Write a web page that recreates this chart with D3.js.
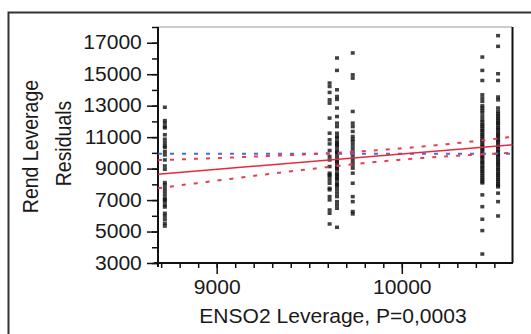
<!DOCTYPE html>
<html>
<head>
<meta charset="utf-8">
<script src="https://cdn.jsdelivr.net/npm/d3@7"></script>
<style>
  body { margin: 0; background: #fff; }
  svg { display: block; }
  text { font-family: "Liberation Sans", Arial, sans-serif; fill: #1a1a1a; }
</style>
</head>
<body>
<svg id="chart"></svg>
<script>
// leverage x positions of the point columns
const colX = [8720, 9610, 9650, 9735, 10435, 10520];

// residual values
const residA = [12900, 12050, 11890, 11670, 11590, 11150, 10870, 10650, 10450, 10340, 10080, 9870, 9550, 9170, 8960,
  8110, 7960, 7750, 7540, 7330, 7120, 7010, 6900, 6690, 6560, 6160, 5990, 5780, 5530, 5350];
const residB = [14440, 14220, 13840, 13370, 13160, 12210, 11250, 10830, 10570, 10150, 9770, 9550, 9130, 8710, 8600,
  8490, 8280, 8070, 7750, 7650, 7220, 7010, 6370, 6160, 5480];
const residC = [16030, 15240, 14010, 13580, 13400, 12850, 12310, 11890, 11670, 11250, 11040, 10940, 10720, 10620, 10510,
  10400, 10190, 10050, 9980, 9770, 9560, 9450, 9340, 9130, 9020, 8920, 8710, 8600, 8490, 8380, 8280, 8070, 7970, 7860,
  7650, 7440, 7220, 6900, 6690, 6480, 5270];
const residD = [16350, 14960, 14750, 12630, 11890, 11670, 11360, 11040, 10870, 10720, 10510, 10300, 10080, 9870, 9660,
  9450, 9240, 9030, 8710, 8070, 7220, 6900, 6270, 6120];
const residE = [16090, 15240, 14600, 13690, 13480, 13270, 12990, 12850, 12690, 12530, 12310, 12100, 11960, 11790, 11700,
  11540, 11420, 11310, 11150, 11060, 10910, 10790, 10700, 10540, 10430, 10280, 10190, 10040, 9930, 9790, 9690, 9540,
  9410, 9320, 9160, 9060, 8910, 8820, 8670, 8560, 8410, 8310, 8170, 8090, 7330, 6580, 5780, 5060, 3570];
const residF = [17450, 16770, 15030, 14600, 13550, 13370, 12850, 12630, 12480, 12350, 12210, 12090, 11950, 11870, 11720,
  11580, 11470, 11320, 11190, 11080, 10950, 10800, 10690, 10560, 10410, 10320, 10170, 10060, 9910, 9820, 9680, 9550,
  9420, 9300, 9190, 9040, 8930, 8790, 8660, 8560, 8420, 8300, 8170, 8040, 7930, 7840, 7440, 6900, 5990];

// fit line [intercept, slope], mean of residuals, confidence band [xbar, a, b]
const fitLine = [175, 0.9754];
const meanResid = 9940;
const bandParams = [10010, 128390, 0.378];

const yMajor = [3000, 5000, 7000, 9000, 11000, 13000, 15000, 17000];
const xMajor = [9000, 10000];

const W = 531, H = 334;
const svg = d3.select('#chart').attr('width', W).attr('height', H);

const x = d3.scaleLinear().domain([8683, 10598]).range([158, 512.5]);
const y = d3.scaleLinear().domain([3000, 18000]).range([263, 27]);

// outer frame (runs off right and bottom)
svg.append('path').attr('d', `M8.5,${H} V12.5 H${W}`)
  .attr('fill', 'none').attr('stroke', '#333').attr('stroke-width', 2);

// plot frame top / right
svg.append('line').attr('x1', 158).attr('x2', 512.5).attr('y1', 27).attr('y2', 27)
  .attr('stroke', '#999').attr('stroke-width', 1);
svg.append('line').attr('x1', 512.5).attr('x2', 512.5).attr('y1', 27).attr('y2', 263)
  .attr('stroke', '#111').attr('stroke-width', 2);

// y axis: minor + major
svg.append('g').attr('transform', 'translate(158,0)')
  .call(d3.axisLeft(y).tickValues(d3.range(3000, 18001, 1000)).tickSize(6).tickFormat(''))
  .call(g => g.select('.domain').remove())
  .call(g => g.selectAll('line').attr('stroke', '#111').attr('stroke-width', 1.5));
svg.append('g').attr('transform', 'translate(158,0)')
  .call(d3.axisLeft(y).tickValues(yMajor).tickSize(11).tickPadding(4).tickFormat(d3.format('d')))
  .call(g => g.select('.domain').remove())
  .call(g => g.selectAll('line').attr('stroke', '#111').attr('stroke-width', 1.5))
  .call(g => g.selectAll('text').attr('font-size', '19.5px').attr('fill', '#1a1a1a')
    .attr('transform', 'scale(1.08,1)'));

// x axis: minor + major
svg.append('g').attr('transform', 'translate(0,263)')
  .call(d3.axisBottom(x).tickValues(d3.range(8700, 10501, 100)).tickSize(5).tickFormat(''))
  .call(g => g.select('.domain').remove())
  .call(g => g.selectAll('line').attr('stroke', '#111').attr('stroke-width', 1.5));
svg.append('g').attr('transform', 'translate(0,263)')
  .call(d3.axisBottom(x).tickValues(xMajor).tickSize(11).tickPadding(6).tickFormat(d3.format('d')))
  .call(g => g.select('.domain').remove())
  .call(g => g.selectAll('line').attr('stroke', '#111').attr('stroke-width', 1.5))
  .call(g => g.selectAll('text').attr('font-size', '19.5px').attr('fill', '#1a1a1a')
    .attr('transform', 'scale(1.08,1)'));

// axis lines (slightly overshooting at the corner)
svg.append('line').attr('x1', 158).attr('x2', 158).attr('y1', 27).attr('y2', 267)
  .attr('stroke', '#111').attr('stroke-width', 2);
svg.append('line').attr('x1', 154).attr('x2', 513).attr('y1', 263).attr('y2', 263)
  .attr('stroke', '#111').attr('stroke-width', 2);

// axis titles
svg.append('text').attr('transform', 'translate(333,323) scale(1.08,1)')
  .attr('text-anchor', 'middle').attr('font-size', '19.5px')
  .text('ENSO2 Leverage, P=0,0003');
svg.append('text').attr('transform', 'translate(38,146.5) scale(1.1,1) rotate(-90)')
  .attr('text-anchor', 'middle').attr('font-size', '19.5px')
  .text('Rend Leverage');
svg.append('text').attr('transform', 'translate(71,143.5) scale(1.1,1) rotate(-90)')
  .attr('text-anchor', 'middle').attr('font-size', '19.5px')
  .text('Residuals');

// points
const groups = [residA, residB, residC, residD, residE, residF];
const pts = [];
groups.forEach((arr, i) => arr.forEach(v => pts.push({lev: colX[i], res: v})));

svg.append('g').selectAll('rect').data(pts).enter().append('rect')
  .attr('x', d => x(d.lev) - 2)
  .attr('y', d => y(d.res) - 1.75)
  .attr('width', 4).attr('height', 3.5)
  .attr('fill', '#111').attr('opacity', 0.8);

// mean line, fit and confidence curves
const xs = d3.range(x.domain()[0], x.domain()[1] + 1, 10);
const fit = v => fitLine[0] + fitLine[1] * v;
const half = v => Math.sqrt(bandParams[1] + bandParams[2] * (v - bandParams[0]) ** 2);
const line = d3.line().x(d => x(d[0])).y(d => y(d[1]));

svg.append('path').datum(x.domain().map(v => [v, meanResid]))
  .attr('d', line).attr('fill', 'none')
  .attr('stroke', '#4a6ad8').attr('stroke-width', 2).attr('stroke-dasharray', '4,8');

svg.append('path').datum(xs.map(v => [v, fit(v) + half(v)]))
  .attr('d', line).attr('fill', 'none')
  .attr('stroke', '#ee3a50').attr('stroke-width', 2).attr('stroke-dasharray', '4,8');
svg.append('path').datum(xs.map(v => [v, fit(v) - half(v)]))
  .attr('d', line).attr('fill', 'none')
  .attr('stroke', '#ee3a50').attr('stroke-width', 2).attr('stroke-dasharray', '4,8');

svg.append('path').datum(x.domain().map(v => [v, fit(v)]))
  .attr('d', line).attr('fill', 'none')
  .attr('stroke', '#e8283c').attr('stroke-width', 1.5);
</script>
</body>
</html>
